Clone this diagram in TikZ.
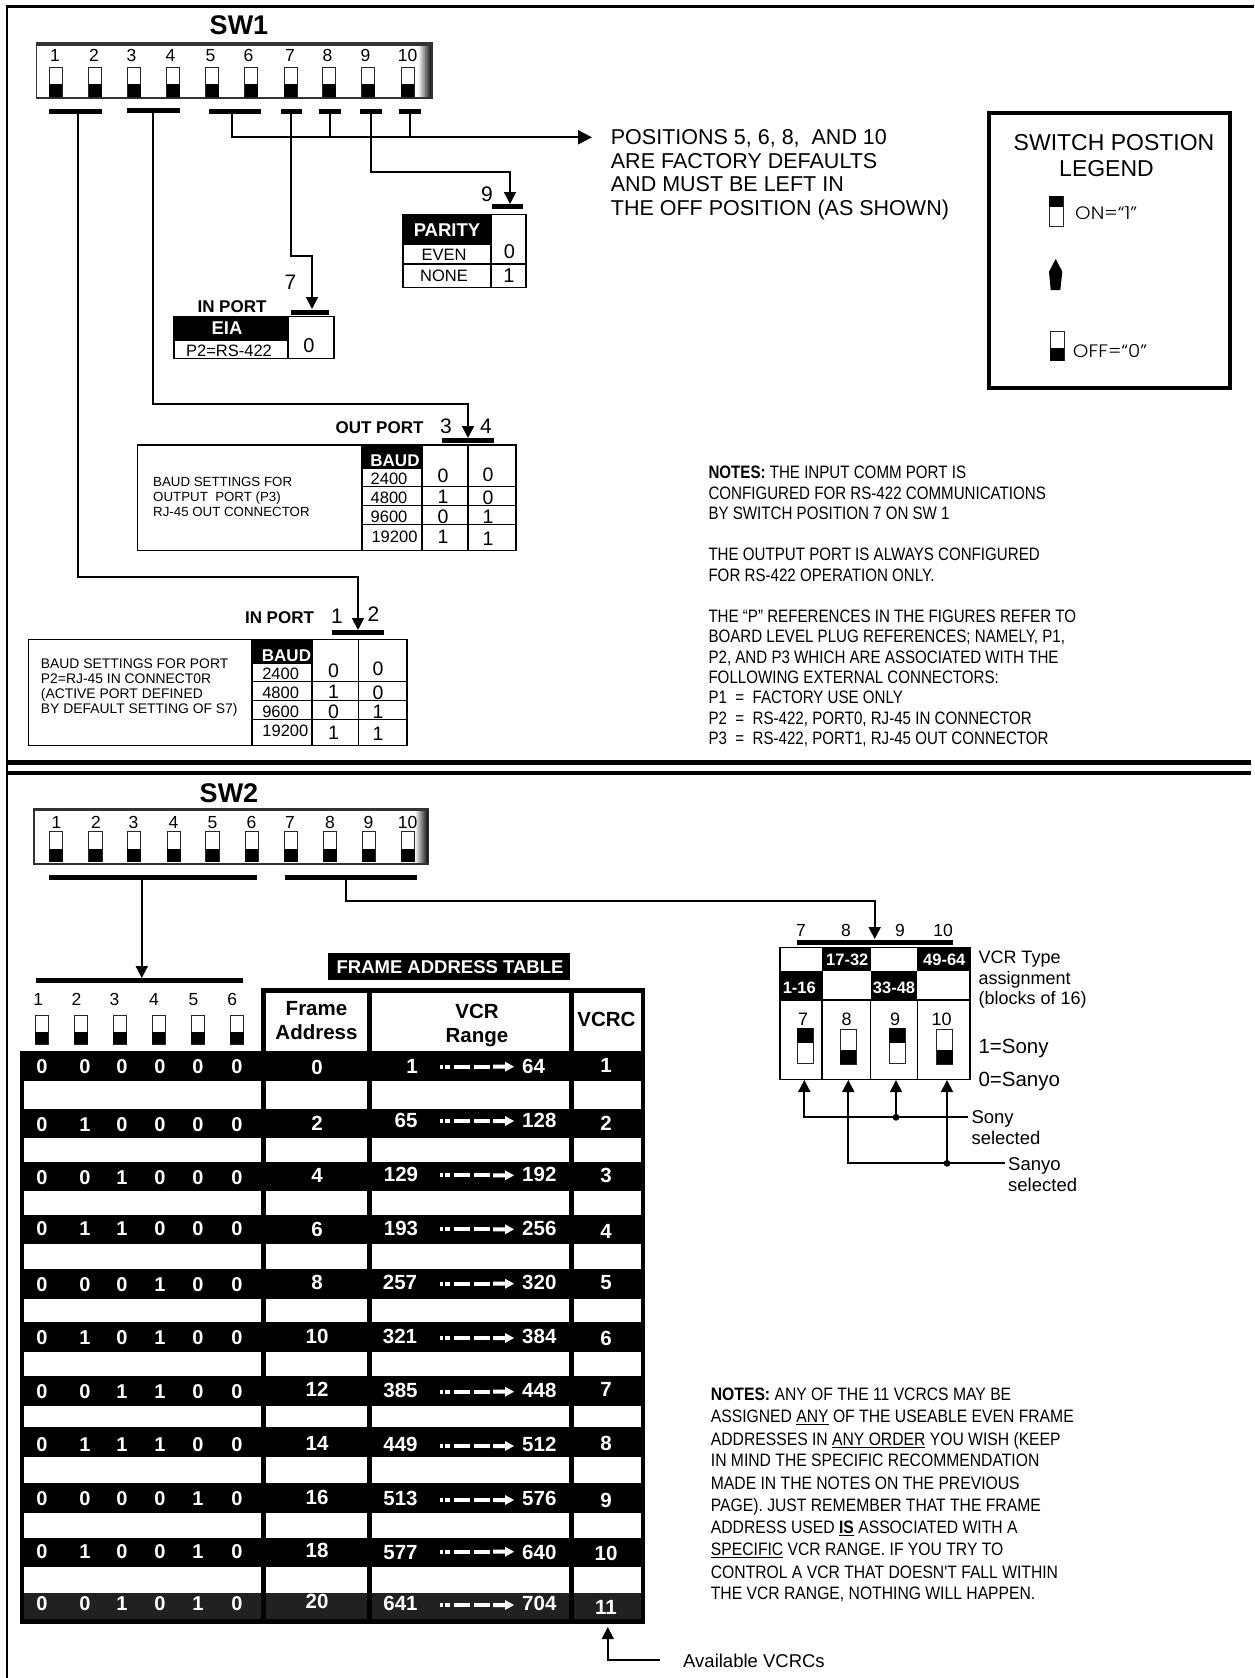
\documentclass[tikz,border=0pt]{standalone}
\usepackage{fontspec}
\setmainfont{Liberation Sans}
\newfontfamily\narrowA[FakeStretch=0.84]{Liberation Sans}
\newfontfamily\narrowB[FakeStretch=0.872]{Liberation Sans}
\newfontfamily\geofont[FakeStretch=1.1]{Poppins Light}
\usetikzlibrary{arrows.meta}
\tikzset{
  rg/.style={font=\fontsize{#1pt}{#1pt}\selectfont,text height=#1*0.72pt,text depth=0pt,inner sep=0pt},
  bd/.style={font=\bfseries\fontsize{#1pt}{#1pt}\selectfont,text height=#1*0.72pt,text depth=0pt,inner sep=0pt},
  nra/.style={font=\narrowA\fontsize{18pt}{18pt}\selectfont,text height=13pt,text depth=0pt,inner sep=0pt,anchor=west},
  nrb/.style={font=\narrowB\fontsize{18pt}{18pt}\selectfont,text height=13pt,text depth=0pt,inner sep=0pt,anchor=west},
  geo/.style={font=\geofont\fontsize{18pt}{18pt}\selectfont,text height=12.6pt,text depth=0pt,inner sep=0pt,anchor=west},
  barbox/.style={fill=black,inner sep=0pt,minimum height=#1,text height=0pt,text depth=0pt},
  barbox/.default=5pt,
  wire/.style={draw=black,line width=1.8pt},
  tipA/.style={-{Triangle[length=12pt,width=12pt]}},
  tipB/.style={-{Triangle[length=14pt,width=14pt]}},
  thin line/.style={draw=black,line width=1.2pt},
  frame line/.style={draw=black,line width=2.6pt},
  sw line/.style={draw=black!85,line width=1pt},
}
\newcommand\offsw[5]{% x, half width, top, bottom, black start
  \fill[white] (#1-#2,#3) rectangle (#1+#2,#4);
  \draw[sw line] (#1-#2,#3) rectangle (#1+#2,#4);
  \fill[black] (#1-#2,#5) rectangle (#1+#2,#4);}
\newcommand\onsw[5]{% x, half width, top, bottom, black end
  \fill[white] (#1-#2,#3) rectangle (#1+#2,#4);
  \draw[sw line] (#1-#2,#3) rectangle (#1+#2,#4);
  \fill[black] (#1-#2,#3) rectangle (#1+#2,#5);}
\newcommand\dipbox[4]{% x0,y0,x1,y1
  \fill[white] (#1,#2) rectangle (#3,#4);
  \shade[left color=white,right color=black] (#3-14,#2) rectangle (#3,#4);
  \fill[black!80] (#1,#2) rectangle (#3,#2+3);
  \draw[draw=black!80,line width=1.6pt] (#1,#2) rectangle (#3,#4);}
\newcommand\rangearrow[1]{%
  \fill[white] (440,#1-2) rectangle (442.5,#1+2);
  \fill[white] (444.5,#1-2) rectangle (450,#1+2);
  \fill[white] (454,#1-2) rectangle (470,#1+2);
  \fill[white] (474,#1-2) rectangle (490,#1+2);
  \fill[white] (493,#1-2) -- (505,#1-2) -- (505,#1-5) -- (514,#1) -- (505,#1+5) -- (505,#1+2) -- (493,#1+2) -- cycle;}
\begin{document}
\begin{tikzpicture}[x=1pt,y=-1pt]
\useasboundingbox (0,0) rectangle (1254,1678);
\fill[white] (0,0) rectangle (1254,1678);
% frame
\draw[frame line] (1254,6.5) -- (7,6.5) -- (7,1678);
\draw[draw=black,line width=4.6pt] (7,762.3) -- (1251,762.3);
\draw[draw=black,line width=4.6pt] (7,772.8) -- (1251,772.8);

% ---------- SW1
\node[bd=27] (sw1title) at (239,25) {SW1};
\dipbox{36.5}{43}{432}{98}
\foreach \i/\x/\tx in {1/55.7/55,2/95/94,3/134/131.5,4/173/170.5,5/212/210.5,6/251/248.5,7/290.5/290,8/329/327.5,9/368/365.5,10/407.5/407.5}{
  \offsw{\x}{6.5}{67.7}{97}{84}
  \node[rg=17.5] (swa\i) at (\tx,55) {\i};
}
\node[barbox,minimum width=53pt] (b12) at (75.5,111) {};
\node[barbox,minimum width=53pt] (b34) at (153.5,110) {};
\node[barbox,minimum width=52pt] (b56) at (235,111) {};
\node[barbox,minimum width=21pt] (b7) at (291.5,111) {};
\node[barbox,minimum width=22pt] (b8) at (330,111) {};
\node[barbox,minimum width=22pt] (b9) at (371,111) {};
\node[barbox,minimum width=22pt] (b10) at (410,111) {};
\coordinate (s12) at (78,111);
\coordinate (s34) at (152.6,110);
\coordinate (s56) at (232,111);
\coordinate (s7) at (291,111);
\coordinate (s9) at (371,111);
\coordinate (j56) at (232,137.3);
\coordinate (posarrow) at (592,137.3);
% positions wire
\draw[wire,tipB] (s56) -- (j56) -- (posarrow);
\draw[wire] (b8.center) -- (330,137.3);
\draw[wire] (b10.center) -- (410,137.3);
\node[rg=21.5,anchor=west] (p1) at (610.7,136.7) {POSITIONS 5, 6, 8,\ \ AND 10};
\node[rg=21.5,anchor=west] (p2) at (610.7,160.4) {ARE FACTORY DEFAULTS};
\node[rg=21.5,anchor=west] (p3) at (610.7,183.3) {AND MUST BE LEFT IN};
\node[rg=21.5,anchor=west] (p4) at (610.7,207.3) {THE OFF POSITION (AS SHOWN)};

% parity
\node[barbox,minimum width=31pt] (bpar) at (507.5,206.3) {};
\coordinate (w9) at (510,172.3);
\coordinate (t9) at (510,204);
\draw[wire,tipA] (s9) |- (w9) -- (t9);
\node[rg=21] (l9) at (487,194) {9};
\fill[black] (403,214.3) rectangle (491,244);
\draw[thin line] (403,214.3) rectangle (526,287.3);
\draw[thin line] (491,214.3) -- (491,287.3);
\draw[thin line] (403,244) -- (491,244);
\draw[thin line] (403,264) -- (526,264);
\node[bd=18.5,text=white] (parity) at (447,229.5) {PARITY};
\node[rg=16.5] (even) at (444,254.3) {EVEN};
\node[rg=16.5] (none) at (444,275.7) {NONE};
\node[rg=20] (par0) at (509.5,251.7) {0};
\node[rg=20] (par1) at (509,275.7) {1};

% in port eia
\node[barbox,minimum width=38.5pt] (bin7) at (310,312.3) {};
\coordinate (w7) at (312,255.7);
\coordinate (t7) at (312,309);
\draw[wire,tipA] (s7) |- (w7) -- (t7);
\node[rg=21] (l7) at (290.5,281.7) {7};
\fill[black] (174,316.7) rectangle (288,340.7);
\draw[thin line] (174,316.7) rectangle (334,358.7);
\draw[thin line] (288,316.7) -- (288,358.7);
\draw[thin line] (174,340.7) -- (288,340.7);
\node[bd=17] (inport7) at (232,306.3) {IN PORT};
\node[bd=18.5,text=white] (eia) at (227,327.7) {EIA};
\node[rg=16.5] (p2rs) at (229,350.7) {P2=RS-422};
\node[rg=20] (eia0) at (309,345) {0};

% out port table
\node[barbox,minimum width=52pt] (bout) at (468,440.3) {};
\coordinate (w34) at (468,404.3);
\coordinate (t34) at (468,438);
\draw[wire,tipA] (s34) |- (w34) -- (t34);
\node[bd=17] (outport) at (379.5,427.7) {OUT PORT};
\node[rg=21] (l3) at (446,426) {3};
\node[rg=21] (l4) at (486,426) {4};
\fill[black] (362,445) rectangle (422,469.3);
\draw[thin line] (137.5,445) rectangle (516,550.7);
\draw[thin line] (362,445) -- (362,550.7);
\draw[thin line] (422,445) -- (422,550.7);
\draw[thin line] (468,445) -- (468,550.7);
\foreach \y in {486.7,505.7,524.3}{\draw[thin line] (362,\y) -- (516,\y);}
\node[bd=17,text=white] (baudo) at (395,460) {BAUD};
\node[rg=16.5] (o24) at (389,479) {2400};
\node[rg=16.5] (o48) at (389,497.7) {4800};
\node[rg=16.5] (o96) at (389,517) {9600};
\node[rg=16.5] (o19) at (394.5,536.7) {19200};
\node[rg=19.5] (oa1) at (443,475.7) {0};
\node[rg=19.5] (ob1) at (488,474.3) {0};
\node[rg=19.5] (oa2) at (443,496.7) {1};
\node[rg=19.5] (ob2) at (488,497.3) {0};
\node[rg=19.5] (oa3) at (443,516) {0};
\node[rg=19.5] (ob3) at (488,516) {1};
\node[rg=19.5] (oa4) at (443,536.7) {1};
\node[rg=19.5] (ob4) at (488,538.3) {1};
\node[rg=13.3,anchor=west] (ot1) at (153,481.3) {BAUD SETTINGS FOR};
\node[rg=13.3,anchor=west] (ot2) at (153,496.3) {OUTPUT\ \ PORT (P3)};
\node[rg=13.3,anchor=west] (ot3) at (153,511.3) {RJ-45 OUT CONNECTOR};

% in port table
\node[barbox,minimum width=52pt] (binp) at (358,632.7) {};
\coordinate (w12) at (358,577.3);
\coordinate (t12) at (358,630);
\draw[wire,tipA] (s12) |- (w12) -- (t12);
\node[bd=17] (inport) at (279.5,617) {IN PORT};
\node[rg=21] (l1) at (337,615.7) {1};
\node[rg=21] (l2) at (373.5,614.3) {2};
\fill[black] (252,639.7) rectangle (312,664);
\draw[thin line] (28.5,639.7) rectangle (407,745.7);
\draw[thin line] (252,639.7) -- (252,745.7);
\draw[thin line] (312,639.7) -- (312,745.7);
\draw[thin line] (358.5,639.7) -- (358.5,745.7);
\foreach \y in {681.7,700.7,719.3}{\draw[thin line] (252,\y) -- (407,\y);}
\node[bd=17,text=white] (baudi) at (286.5,655) {BAUD};
\node[rg=16.5] (i24) at (280.6,673.7) {2400};
\node[rg=16.5] (i48) at (280.6,692.7) {4800};
\node[rg=16.5] (i96) at (280.6,712) {9600};
\node[rg=16.5] (i19) at (285.4,731) {19200};
\node[rg=19.5] (ia1) at (333.6,670) {0};
\node[rg=19.5] (ib1) at (378,668.7) {0};
\node[rg=19.5] (ia2) at (333.6,691.7) {1};
\node[rg=19.5] (ib2) at (378,692.7) {0};
\node[rg=19.5] (ia3) at (333.6,711) {0};
\node[rg=19.5] (ib3) at (378,711.7) {1};
\node[rg=19.5] (ia4) at (333.6,732.3) {1};
\node[rg=19.5] (ib4) at (378,733) {1};
\node[rg=13.9,anchor=west] (it1) at (40.7,663.3) {BAUD SETTINGS FOR PORT};
\node[rg=13.9,anchor=west] (it2) at (40.7,678.3) {P2=RJ-45 IN CONNECT0R};
\node[rg=13.9,anchor=west] (it3) at (40.7,693.3) {(ACTIVE PORT DEFINED};
\node[rg=13.9,anchor=west] (it4) at (40.7,708.3) {BY DEFAULT SETTING OF S7)};

% legend
\draw[draw=black,line width=4.6pt] (989,113) rectangle (1230,388);
\node[rg=23] (lg1) at (1114,142) {SWITCH POSTION};
\node[rg=23] (lg2) at (1106.5,168) {LEGEND};
\onsw{1056}{7}{196}{226}{207}
\node[geo] (lgon) at (1075,213) {ON=“1”};
\fill[black] (1055.7,259) -- (1062.3,271.7) -- (1060.3,290) -- (1050.7,290) -- (1049,271.7) -- cycle;
\offsw{1057.2}{7}{331}{360.7}{348}
\node[geo] (lgoff) at (1072.7,350.7) {OFF=“0”};

% notes 1
\node[nra] (n1) at (708.3,471.7) {\bfseries NOTES:\mdseries\ THE INPUT COMM PORT IS};
\node[nra] (n2) at (708.3,492.7) {CONFIGURED FOR RS-422 COMMUNICATIONS};
\node[nra] (n3) at (708.3,513.3) {BY SWITCH POSITION 7 ON SW 1};
\node[nra] (n4) at (708.3,554.3) {THE OUTPUT PORT IS ALWAYS CONFIGURED};
\node[nra] (n5) at (708.3,575.3) {FOR RS-422 OPERATION ONLY.};
\node[nra] (n6) at (708.3,615.7) {THE “P” REFERENCES IN THE FIGURES REFER TO};
\node[nra] (n7) at (708.3,636) {BOARD LEVEL PLUG REFERENCES; NAMELY, P1,};
\node[nra] (n8) at (708.3,656.7) {P2, AND P3 WHICH ARE ASSOCIATED WITH THE};
\node[nra] (n9) at (708.3,677.3) {FOLLOWING EXTERNAL CONNECTORS:};
\node[nra] (n10) at (708.3,697) {P1\ \ =\ \ FACTORY USE ONLY};
\node[nra] (n11) at (708.3,717.7) {P2\ \ =\ \ RS-422, PORT0, RJ-45 IN CONNECTOR};
\node[nra] (n12) at (708.3,738.3) {P3\ \ =\ \ RS-422, PORT1, RJ-45 OUT CONNECTOR};

% ---------- SW2
\node[bd=27] (sw2title) at (229,792.5) {SW2};
\dipbox{33.7}{808.3}{428.5}{863.7}
\foreach \i/\x/\tx in {1/56/56.5,2/95.5/96,3/134/133.5,4/174/173.4,5/212.5/212.5,6/251.7/251.5,7/291/290,8/330/330,9/368.7/368.5,10/408/407.5}{
  \offsw{\x}{6.7}{831.7}{861.7}{848.7}
  \node[rg=17.5] (swb\i) at (\tx,821.7) {\i};
}
\node[barbox,minimum width=208pt] (bs16) at (153,877.3) {};
\node[barbox,minimum width=132.5pt] (bs710) at (351.2,877.3) {};
\node[barbox,minimum width=207pt] (bt16) at (139.5,980) {};
\coordinate (s16) at (141.8,877.3);
\coordinate (t16) at (141.8,978);
\draw[wire,tipA] (s16) -- (t16);
\coordinate (s710) at (346,877.3);
\coordinate (w710) at (874.7,901);
\coordinate (t710) at (874.7,939);
\node[barbox,minimum width=156pt] (bt710) at (874.7,942.3) {};
\draw[wire,tipA] (s710) |- (w710) -- (t710);
\foreach \i/\x/\sx in {1/38.3/41.7,2/76.6/80.8,3/114.5/120,4/154/158.7,5/193.6/197.8,6/232.3/237}{
  \node[rg=17.5] (swc\i) at (\x,998.7) {\i};
  \offsw{\sx}{6.7}{1015}{1044.3}{1031.7}
}
% frame address table
\fill[black] (328,953.3) rectangle (569.5,980);
\node[bd=18.5,text=white] (fat) at (450,966.7) {FRAME ADDRESS TABLE};
\fill[black] (261,988.3) rectangle (644.8,1051);
\fill[black] (19.8,1051) rectangle (644.8,1623.5);
\fill[white] (266,992.7) rectangle (367.4,1051);
\fill[white] (372,992.7) rectangle (569,1051);
\fill[white] (574,992.7) rectangle (640.6,1051);
\foreach \ya/\yb in {1080.7/1109.3,1138.3/1161.7,1190.7/1215,1244.3/1269,1298.7/1322,1351.7/1376.3,1405.7/1427.3,1457/1482.7,1512.7/1538.3,1566.7/1593.3}{
  \fill[white] (24.4,\ya) rectangle (261,\yb);
  \fill[white] (266,\ya) rectangle (367.4,\yb);
  \fill[white] (372,\ya) rectangle (569,\yb);
  \fill[white] (574,\ya) rectangle (640.6,\yb);
}
\foreach \xa/\xb in {24.4/261,266/367.4,372/569,574/640.6}{\fill[black!87] (\xa,1593.3) rectangle (\xb,1619);}
\node[bd=20.5] (h1a) at (316.5,1008.3) {Frame};
\node[bd=20.5] (h1b) at (316.5,1032.3) {Address};
\node[bd=20.5] (h2a) at (477,1010.7) {VCR};
\node[bd=20.5] (h2b) at (477,1035) {Range};
\node[bd=20.5] (h3) at (606.5,1019) {VCRC};
\foreach \r/\yb/\yf/\yn/\yv/\ya/\bA/\bB/\bC/\bD/\fA/\nA/\xn/\nB/\vc in {
 1/1066.7/1067/1066/1065/1066.7/0/0/0/0/0/1/412/64/1,
 2/1124/1123/1120.5/1122.7/1121/1/0/0/0/2/65/406/128/2,
 3/1177.3/1175/1174/1175/1175.3/0/1/0/0/4/129/401/192/3,
 4/1228.7/1228.7/1228/1230.7/1229.3/1/1/0/0/6/193/401/256/4,
 5/1284.3/1281.7/1281.7/1282.3/1283.7/0/0/1/0/8/257/400/320/5,
 6/1337.7/1335.7/1336/1338.3/1338/1/0/1/0/10/321/400/384/6,
 7/1391/1389.3/1390/1389.3/1391.7/0/1/1/0/12/385/400.5/448/7,
 8/1444.3/1442.7/1444/1442.7/1446/1/1/1/0/14/449/400.5/512/8,
 9/1498.3/1496.7/1498/1500/1500/0/0/0/1/16/513/400.5/576/9,
 10/1551.7/1550/1551.7/1553.3/1551.7/1/0/0/1/18/577/400.5/640/10,
 11/1603.3/1601/1602.7/1606.7/1605/0/1/0/1/20/641/400.5/704/11}{
  \foreach \c/\x/\v in {1/42/0,2/85/\bA,3/122/\bB,4/160/\bC,5/198/\bD,6/237/0}{
    \node[bd=20,text=white] (bit\r-\c) at (\x,\yb) {\v};
  }
  \node[bd=20.5,text=white] (fa\r) at (317,\yf) {\fA};
  \node[bd=20.5,text=white] (na\r) at (\xn,\yn) {\nA};
  \node[bd=20.5,text=white,anchor=west] (nb\r) at (522,\yn) {\nB};
  \node[bd=20.5,text=white] (vc\r) at (606,\yv) {\vc};
  \rangearrow{\ya}
}
\coordinate (avend) at (660,1660);
\coordinate (avcorner) at (607.8,1660);
\coordinate (avtip) at (607.8,1627);
\draw[draw=black,line width=1.4pt,tipA] (avend) -- (avcorner) -- (avtip);
\node[rg=18.5,anchor=west] (avail) at (683,1660.5) {Available VCRCs};

% VCR type
\foreach \i/\x in {7/801,8/846,9/900,10/943}{\node[rg=17.5] (top\i) at (\x,930) {\i};}
\draw[thin line] (780,947.3) rectangle (970,1079.3);
\fill[black] (822,947.3) rectangle (871,971);
\fill[black] (917,947.3) rectangle (970,971);
\fill[black] (780,971) rectangle (822.7,1000);
\fill[black] (871,971) rectangle (917.3,1000);
\draw[thin line] (780,1000) -- (970,1000);
\draw[thin line] (822,1000) -- (822,1079.3);
\draw[thin line] (870.3,1000) -- (870.3,1079.3);
\draw[thin line] (917.3,1000) -- (917.3,1079.3);
\node[bd=16.5,text=white] (bl1) at (847.3,959.3) {17-32};
\node[bd=16.5,text=white] (bl2) at (944.3,959.3) {49-64};
\node[bd=16.5,text=white] (bl3) at (799.3,987.3) {1-16};
\node[bd=16.5,text=white] (bl4) at (894,987.3) {33-48};
\node[rg=18] (in7) at (803,1019) {7};
\node[rg=18] (in8) at (846.7,1019) {8};
\node[rg=18] (in9) at (895,1019) {9};
\node[rg=18] (in10) at (941.7,1019) {10};
\onsw{805}{8}{1028.3}{1063.3}{1042.7}
\offsw{848.2}{8}{1029.3}{1064.3}{1049.7}
\onsw{897.3}{8}{1028.3}{1063.3}{1042.7}
\offsw{944.7}{8}{1029.3}{1064.3}{1049.7}
\node[rg=18,anchor=west] (vt1) at (978.3,957.3) {VCR Type};
\node[rg=18,anchor=west] (vt2) at (978.3,977.7) {assignment};
\node[rg=18,anchor=west] (vt3) at (978.3,998.3) {(blocks of 16)};
\node[rg=20.5,anchor=west] (vt4) at (978.3,1045.7) {1=Sony};
\node[rg=20.5,anchor=west] (vt5) at (978.3,1079) {0=Sanyo};
\coordinate (sonyend) at (968.3,1117.3);
\coordinate (sonya) at (804.3,1117.3);
\coordinate (sonyb) at (896,1117.3);
\coordinate (sanyoend) at (1005,1163.3);
\coordinate (sanyoa) at (848.3,1163.3);
\coordinate (sanyob) at (947,1163.3);
\coordinate (up7) at (804.3,1080);
\coordinate (up8) at (848.3,1080);
\coordinate (up9) at (896,1080);
\coordinate (up10) at (947,1080);
\draw[wire,tipA] (sonyend) -- (sonya) -- (up7);
\draw[wire,tipA] (sonyb) -- (up9);
\draw[wire,tipA] (sanyoend) -- (sanyoa) -- (up8);
\draw[wire,tipA] (sanyob) -- (up10);
\fill[black] (sonyb) circle (3.4pt);
\fill[black] (sanyob) circle (3.4pt);
\node[rg=18.5,anchor=west] (sony) at (971.3,1117.3) {Sony};
\node[rg=18.5,anchor=west] (sonys) at (971.3,1138.3) {selected};
\node[rg=18.5,anchor=west] (sanyo) at (1008,1164) {Sanyo};
\node[rg=18.5,anchor=west] (sanyos) at (1008,1185) {selected};

% notes 2
\node[nrb] (m1) at (710.7,1394) {\bfseries NOTES:\mdseries\ ANY OF THE 11 VCRCS MAY BE};
\node[nrb] (m2) at (710.7,1416) {ASSIGNED \underline{ANY} OF THE USEABLE EVEN FRAME};
\node[nrb] (m3) at (710.7,1438.7) {ADDRESSES IN \underline{ANY ORDER} YOU WISH (KEEP};
\node[nrb] (m4) at (710.7,1460.3) {IN MIND THE SPECIFIC RECOMMENDATION};
\node[nrb] (m5) at (710.7,1483) {MADE IN THE NOTES ON THE PREVIOUS};
\node[nrb] (m6) at (710.7,1505) {PAGE). JUST REMEMBER THAT THE FRAME};
\node[nrb] (m7) at (710.7,1527.3) {ADDRESS USED \underline{\bfseries IS} ASSOCIATED WITH A};
\node[nrb] (m8) at (710.7,1549.3) {\underline{SPECIFIC} VCR RANGE. IF YOU TRY TO};
\node[nrb] (m9) at (710.7,1571.7) {CONTROL A VCR THAT DOESN'T FALL WITHIN};
\node[nrb] (m10) at (710.7,1593.3) {THE VCR RANGE, NOTHING WILL HAPPEN.};
\end{tikzpicture}
\end{document}
